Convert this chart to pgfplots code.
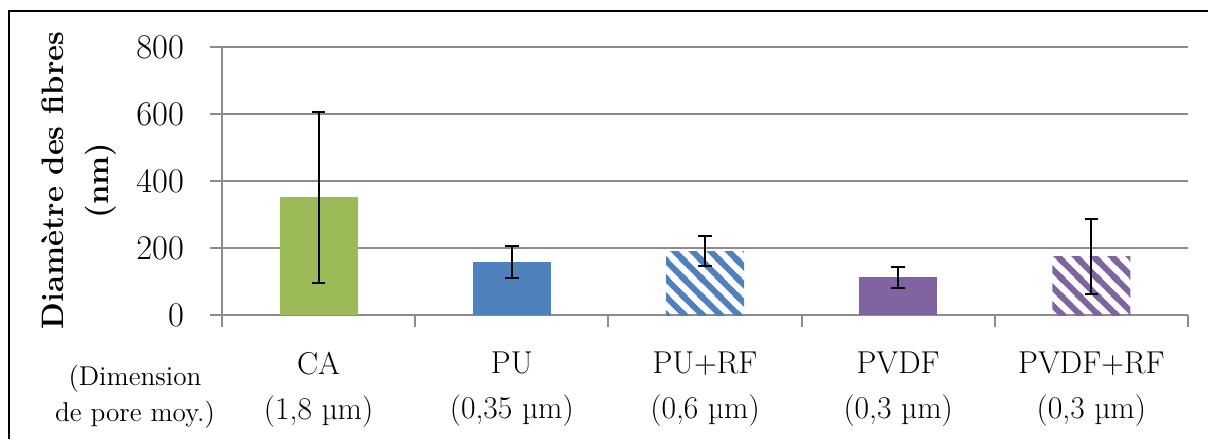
\documentclass[border=0pt]{standalone}
\usepackage{pgfplots}
\pgfplotsset{compat=1.18}
\usetikzlibrary{patterns.meta}
\definecolor{cgreen}{HTML}{9BBB59}
\definecolor{cblue}{HTML}{4F81BD}
\definecolor{cpurple}{HTML}{8064A2}
\definecolor{gridgray}{HTML}{8C8C8C}
\tikzdeclarepattern{
  name=widediag,
  type=uncolored,
  bottom left={(0pt,0pt)},
  top right={(9pt,9pt)},
  tile size={(9pt,9pt)},
  code={
    \draw[line width=3pt] (-1pt,10pt) -- (10pt,-1pt);
    \draw[line width=3pt] (-3pt,3pt) -- (3pt,-3pt);
    \draw[line width=3pt] (6pt,12pt) -- (12pt,6pt);
  }
}
\begin{document}
\begin{tikzpicture}
\useasboundingbox (0pt,0pt) rectangle (604pt,-219.5pt);
\fill[white] (0pt,0pt) rectangle (604pt,-219.5pt);
\draw[line width=1pt,black] (4.5pt,-219.5pt) -- (4.5pt,-5.5pt) -- (604pt,-5.5pt);
\begin{axis}[
  at={(111pt,-157.5pt)}, anchor=south west,
  scale only axis, width=483pt, height=134pt,
  xmin=-0.5, xmax=4.5, ymin=0, ymax=800,
  axis x line*=bottom, axis y line*=left,
  axis line style={-, draw=gridgray, line width=1pt},
  ytick={0,200,400,600,800},
  ymajorgrids, grid style={gridgray, line width=1pt},
  tick align=outside, major tick length=6pt,
  tick style={gridgray, line width=1pt},
  yticklabel style={font=\fontsize{16}{19}\selectfont, xshift=-9.5pt},
  xtick={-0.5,0.5,1.5,2.5,3.5,4.5}, xticklabels={},
  extra x ticks={0,1,2,3,4},
  extra x tick labels={{CA\\(1,8 µm)},{PU\\(0,35 µm)},{PU+RF\\(0,6 µm)},{PVDF\\(0,3 µm)},{PVDF+RF\\(0,3 µm)}},
  extra x tick style={major tick length=0pt, tick style={draw=none},
    xticklabel style={align=center, anchor=north, yshift=-15pt, font=\fontsize{15.8}{22.5}\selectfont}},
  ybar, bar width=39pt, bar shift=0pt,
  error bars/y dir=both, error bars/y explicit,
  error bars/error bar style={line width=1pt, black},
  error bars/error mark options={rotate=90, mark size=3.4pt, line width=1pt, black},
  clip=false,
]
\addplot[fill=cgreen, draw=none] coordinates {(0,352) +- (0,255)};
\addplot[fill=cblue, draw=none] coordinates {(1,158) +- (0,48)};
\addplot[pattern={widediag}, pattern color=cblue, draw=none] coordinates {(2,191) +- (0,45)};
\addplot[fill=cpurple, draw=none] coordinates {(3,113) +- (0,31)};
\addplot[pattern={widediag}, pattern color=cpurple, draw=none] coordinates {(4,176) +- (0,112)};
\end{axis}
\node[anchor=base, font=\fontsize{13.6}{16}\selectfont] at (67.5pt,-192.5pt) {(Dimension};
\node[anchor=base, font=\fontsize{13.6}{16}\selectfont] at (67.5pt,-210.5pt) {de pore moy.)};
\node[anchor=base, rotate=90, font=\bfseries\fontsize{15.5}{18}\selectfont] at (31.5pt,-90.25pt) {Diamètre des fibres};
\node[anchor=base, rotate=90, font=\bfseries\fontsize{15.5}{18}\selectfont] at (54pt,-90.25pt) {(nm)};
\end{tikzpicture}
\end{document}
